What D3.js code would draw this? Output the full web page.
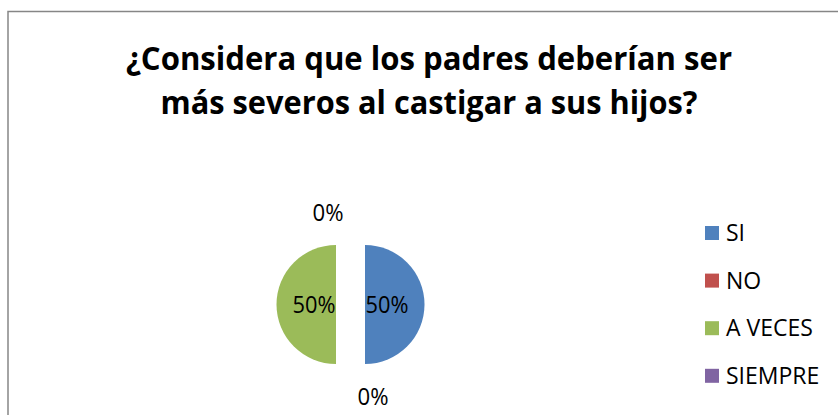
<!DOCTYPE html>
<html>
<head>
<meta charset="utf-8">
<script src="https://cdn.jsdelivr.net/npm/d3@7"></script>
<style>
  html, body { margin: 0; padding: 0; background: #fff; }
  svg { display: block; }
</style>
</head>
<body>
<svg id="chart" width="838" height="415"></svg>
<script>
// chart data
const categories = ["SI", "NO", "A VECES", "SIEMPRE"];
const values = [50, 0, 50, 0];
const colors = ["#4F81BD", "#C0504D", "#9BBB59", "#8064A2"];
const titleLines = ["¿Considera que los padres deberían ser", "más severos al castigar a sus hijos?"];

const svg = d3.select("#chart");
const fontFamily = "'Open Sans', 'Noto Sans', sans-serif";

// chart area frame (cut off on the right and bottom)
svg.append("rect")
   .attr("x", 8)
   .attr("y", 11.5)
   .attr("width", 900)
   .attr("height", 500)
   .attr("fill", "#fff")
   .attr("stroke", "#868686")
   .attr("stroke-width", 1.5);

// title
const titleWidths = [606, 537];
svg.append("g")
   .selectAll("text")
   .data(titleLines)
   .enter()
   .append("text")
   .attr("x", 429)
   .attr("y", (d, i) => 70 + i * 44)
   .attr("text-anchor", "middle")
   .attr("font-family", fontFamily)
   .attr("font-weight", "bold")
   .attr("font-size", 32)
   .attr("textLength", (d, i) => titleWidths[i])
   .attr("lengthAdjust", "spacingAndGlyphs")
   .attr("fill", "#000")
   .text(d => d);

// pie
const cx = 350.5, cy = 304.5, radius = 59.5, explode = 14.5;
const total = d3.sum(values);
const formatPct = d3.format(".0%");

const pie = d3.pie()
              .sort(null)
              .value(d => d.value);

const arc = d3.arc()
              .innerRadius(0)
              .outerRadius(radius);

const pieData = pie(categories.map((c, i) => ({label: c, value: values[i], color: colors[i]})));

const g = svg.append("g")
             .attr("transform", `translate(${cx}, ${cy})`);

const midAngle = d => (d.startAngle + d.endAngle) / 2;
const shift = (d, dist) => [Math.sin(midAngle(d)) * dist, -Math.cos(midAngle(d)) * dist];

g.selectAll("path")
 .data(pieData)
 .enter()
 .append("path")
 .attr("d", arc)
 .attr("transform", d => `translate(${shift(d, explode)})`)
 .attr("fill", d => d.data.color);

// data labels: inside for real slices, outside for empty ones
g.selectAll("text.label")
 .data(pieData)
 .enter()
 .append("text")
 .attr("class", "label")
 .attr("transform", d => {
     if (d.data.value > 0) {
         return `translate(${shift(d, explode + 22)})`;
     }
     const [x, y] = shift(d, radius + explode + 18);
     const side = Math.sign(Math.sin(d.startAngle - 0.01));
     return `translate(${x + side * 22.5}, ${y})`;
 })
 .attr("text-anchor", "middle")
 .attr("dy", "0.36em")
 .attr("font-family", fontFamily)
 .attr("font-size", 24)
 .attr("textLength", d => d.data.value > 0 ? 43 : 31)
 .attr("lengthAdjust", "spacingAndGlyphs")
 .attr("fill", "#000")
 .text(d => formatPct(d.data.value / total));

// legend
const legend = svg.append("g")
                  .attr("transform", "translate(705, 233)");

const item = legend.selectAll("g")
                   .data(categories)
                   .enter()
                   .append("g")
                   .attr("transform", (d, i) => `translate(0, ${i * 47.6})`);

item.append("rect")
    .attr("x", 0)
    .attr("y", -7)
    .attr("width", 14)
    .attr("height", 14)
    .attr("fill", (d, i) => colors[i]);

item.append("text")
    .attr("x", 21)
    .attr("dy", "0.36em")
    .attr("font-family", fontFamily)
    .attr("font-size", 23)
    .attr("fill", "#000")
    .text(d => d);
</script>
</body>
</html>
